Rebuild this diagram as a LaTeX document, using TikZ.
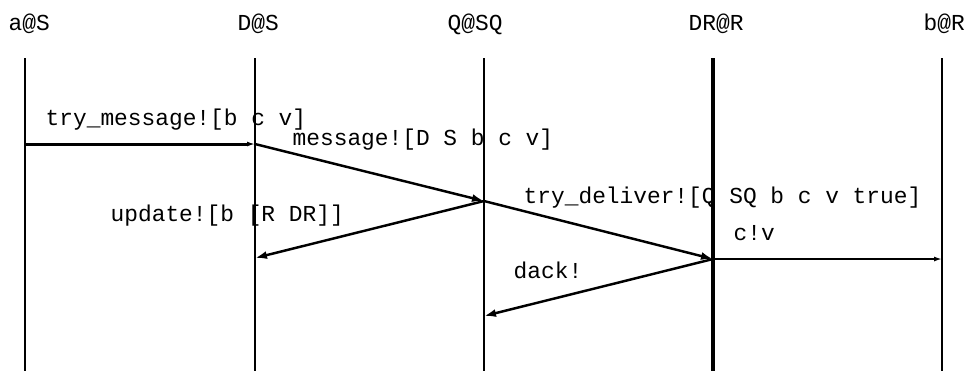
\documentclass[tikz,border=0pt]{standalone}
\usepackage{fontspec}
\setmonofont{Liberation Mono}
\usetikzlibrary{arrows.meta}
\tikzset{>={Latex[length=1.2mm,width=0.8mm]}}
\tikzset{lbl/.style={black, inner sep=0pt, anchor=base west, font=\ttfamily\fontsize{6.5}{8}\selectfont}}

\begin{document}
\begin{tikzpicture}[]
            \useasboundingbox (0,0) rectangle (9.77,-3.71);
            % process names
            \node[lbl] (aS) at (0.08,-0.30) {a@S};
            \node[lbl] (DS) at (2.37,-0.30) {D@S};
            \node[lbl] (QSQ) at (4.47,-0.30) {Q@SQ};
            \node[lbl] (DRR) at (6.88,-0.30) {DR@R};
            \node[lbl] (bR) at (9.23,-0.30) {b@R};
            % lifelines
            \coordinate (aTop) at (0.25,-0.58);  \coordinate (aBot) at (0.25,-3.71);
            \coordinate (dTop) at (2.55,-0.58);  \coordinate (dBot) at (2.55,-3.71);
            \coordinate (qTop) at (4.84,-0.58);  \coordinate (qBot) at (4.84,-3.71);
            \coordinate (rTop) at (7.13,-0.58);  \coordinate (rBot) at (7.13,-3.71);
            \coordinate (bTop) at (9.42,-0.58);  \coordinate (bBot) at (9.42,-3.71);
            \draw[black, line width=0.6pt] (aTop) -- (aBot);
            \draw[black, line width=0.6pt] (dTop) -- (dBot);
            \draw[black, line width=0.6pt] (qTop) -- (qBot);
            \draw[black, line width=1pt] (rTop) -- (rBot);
            \draw[black, line width=0.6pt] (bTop) -- (bBot);
            % message ends
            \coordinate (a1) at (0.25,-1.44);
            \coordinate (d1) at (2.55,-1.44);
            \coordinate (q1) at (4.84,-2.01);
            \coordinate (d2) at (2.55,-2.58);
            \coordinate (r1) at (7.13,-2.59);
            \coordinate (b1) at (9.42,-2.59);
            \coordinate (q2) at (4.84,-3.16);
            % messages
            \draw[black, line width=0.85pt, -{Latex[length=0.8mm,width=0.5mm]}] (a1) -- (d1);
            \draw[black, line width=0.7pt, ->] (d1) -- (q1);
            \draw[black, line width=0.7pt, ->] (q1) -- (d2);
            \draw[black, line width=0.7pt, ->] (q1) -- (r1);
            \draw[black, line width=0.45pt, -{Latex[length=0.8mm,width=0.5mm]}] (r1) -- (b1);
            \draw[black, line width=0.7pt, ->] (r1) -- (q2);
            % labels
            \node[lbl] (m1) at (0.45,-1.25) {try\_message![b c v]};
            \node[lbl] (m2) at (2.92,-1.45) {message![D S b c v]};
            \node[lbl] (m3) at (1.10,-2.21) {update![b [R DR]]};
            \node[lbl] (m4) at (5.23,-2.03) {try\_deliver![Q SQ b c v true]};
            \node[lbl] (m5) at (7.33,-2.40) {c!v};
            \node[lbl] (m6) at (5.13,-2.78) {dack!};
        \end{tikzpicture}
\end{document}
